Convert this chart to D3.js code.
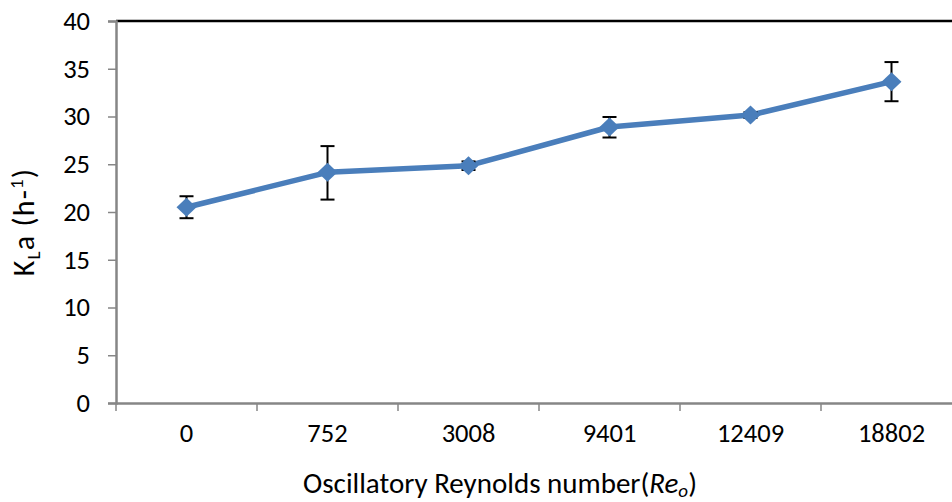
<!DOCTYPE html>
<html>
<head>
<meta charset="utf-8">
<script src="https://cdn.jsdelivr.net/npm/d3@7"></script>
<style>
  body { margin: 0; background: #fff; }
  svg { display: block; font-family: Carlito, Lato, "Open Sans", sans-serif; }
</style>
</head>
<body>
<svg></svg>
<script>
// chart values
const categories = ['0', '752', '3008', '9401', '12409', '18802']
const klaValues = [20.5, 24.15, 24.85, 28.9, 30.15, 33.65]
const errLow = [19.35, 21.3, 24.4, 27.8, 29.85, 31.6]
const errHigh = [21.65, 26.9, 25.3, 29.95, 30.45, 35.7]
const yTicks = [0, 5, 10, 15, 20, 25, 30, 35, 40]

const width = 952
const height = 502
const svg = d3.select('svg').attr('width', width).attr('height', height)

const plotLeft = 116, plotTop = 21, plotBottom = 403
const bandW = 141
const plotRight = plotLeft + bandW * categories.length
const tickFont = 26.5

const xScale = d3.scaleBand().domain(categories).range([plotLeft, plotRight])
const yScale = d3.scaleLinear().domain([0, 40]).range([plotBottom, plotTop])

const values = categories.map((c, i) => ({ cat: c, v: klaValues[i], lo: errLow[i], hi: errHigh[i] }))

// top border
svg.append('line')
    .attr('x1', plotLeft).attr('x2', width + 10)
    .attr('y1', yScale(40)).attr('y2', yScale(40))
    .attr('stroke', '#000').attr('stroke-width', 2.5)

// y axis
const yAxis = d3.axisLeft(yScale).tickValues(yTicks).tickSize(8).tickPadding(18)
const gy = svg.append('g').attr('transform', 'translate(' + plotLeft + ',0)').call(yAxis)
gy.select('.domain').attr('stroke', '#868686').attr('stroke-width', 2.5)
gy.selectAll('.tick line').attr('stroke', '#868686').attr('stroke-width', 1.5)
gy.selectAll('.tick text').attr('font-size', tickFont).attr('fill', '#000')
    .attr('font-family', 'Carlito, Lato, "Open Sans", sans-serif')

// x axis
const xAxis = d3.axisBottom(xScale).tickSize(0).tickPadding(20)
const gx = svg.append('g').attr('transform', 'translate(0,' + plotBottom + ')').call(xAxis)
gx.select('.domain').attr('stroke', '#868686').attr('stroke-width', 2.5)
gx.selectAll('.tick text').attr('font-size', tickFont).attr('fill', '#000')
    .attr('font-family', 'Carlito, Lato, "Open Sans", sans-serif')
// tick marks at category boundaries
const bounds = categories.map(c => xScale(c)).concat([plotRight])
gx.selectAll('.bound').data(bounds).enter().append('line')
    .attr('x1', d => d).attr('x2', d => d)
    .attr('y1', 0).attr('y2', 8)
    .attr('stroke', '#868686').attr('stroke-width', 1.5)

const cx = d => xScale(d.cat) + xScale.bandwidth() / 2

// line
svg.append('path')
    .datum(values)
    .attr('d', d3.line().x(cx).y(d => yScale(d.v)))
    .attr('fill', 'none')
    .attr('stroke', '#4a7ebb')
    .attr('stroke-width', 5.5)
    .attr('stroke-linejoin', 'round')

// error bars
const eb = svg.append('g').attr('stroke', '#000').attr('stroke-width', 2)
values.forEach(d => {
    eb.append('line').attr('x1', cx(d)).attr('x2', cx(d)).attr('y1', yScale(d.lo)).attr('y2', yScale(d.hi))
    eb.append('line').attr('x1', cx(d) - 7).attr('x2', cx(d) + 7).attr('y1', yScale(d.lo)).attr('y2', yScale(d.lo))
    eb.append('line').attr('x1', cx(d) - 7).attr('x2', cx(d) + 7).attr('y1', yScale(d.hi)).attr('y2', yScale(d.hi))
})

// markers
svg.selectAll('.pt').data(values).enter().append('path')
    .attr('d', d3.symbol().type(d3.symbolDiamond2).size(230))
    .attr('transform', d => 'translate(' + cx(d) + ',' + yScale(d.v) + ') scale(1.05,1)')
    .attr('fill', '#4a7ebb')

// axis titles
const xt = svg.append('text')
    .attr('x', 500).attr('y', 493)
    .attr('text-anchor', 'middle')
    .attr('font-size', 29)
xt.append('tspan').text('Oscillatory Reynolds number(')
xt.append('tspan').attr('font-style', 'italic').text('Re')
xt.append('tspan').attr('font-style', 'italic').attr('font-size', 19).attr('dy', 4).text('o')
xt.append('tspan').attr('dy', -4).text(')')

const yt = svg.append('text')
    .attr('transform', 'translate(34,222) rotate(-90)')
    .attr('text-anchor', 'middle')
    .attr('font-size', 30)
    .attr('letter-spacing', 1.2)
yt.append('tspan').text('K')
yt.append('tspan').attr('font-size', 19).attr('dy', 6).text('L')
yt.append('tspan').attr('dy', -6).text('a (h-')
yt.append('tspan').attr('font-size', 19).attr('dy', -11).text('1')
yt.append('tspan').attr('dy', 11).text(')')
</script>
</body>
</html>
